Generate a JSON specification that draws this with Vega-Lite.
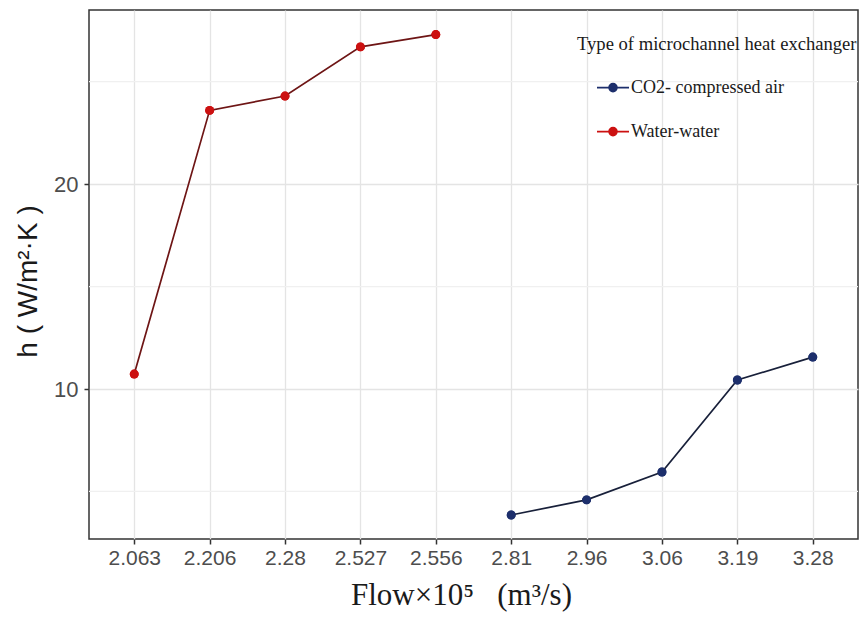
{
  "$schema": "https://vega.github.io/schema/vega-lite/v6.json",
  "width": 769,
  "height": 529,
  "autosize": "none",
  "padding": {"left": 89, "top": 10, "right": 1, "bottom": 80},
  "background": "white",
  "config": {
    "view": {"stroke": "#333333", "strokeWidth": 1.5},
    "font": "Liberation Sans"
  },
  "datasets": {
    "main": [
      {"flow": "2.063", "h": 10.73, "type": "Water-water"},
      {"flow": "2.206", "h": 23.6, "type": "Water-water"},
      {"flow": "2.28", "h": 24.3, "type": "Water-water"},
      {"flow": "2.527", "h": 26.7, "type": "Water-water"},
      {"flow": "2.556", "h": 27.3, "type": "Water-water"},
      {"flow": "2.81", "h": 3.85, "type": "CO2- compressed air"},
      {"flow": "2.96", "h": 4.59, "type": "CO2- compressed air"},
      {"flow": "3.06", "h": 5.95, "type": "CO2- compressed air"},
      {"flow": "3.19", "h": 10.44, "type": "CO2- compressed air"},
      {"flow": "3.28", "h": 11.56, "type": "CO2- compressed air"}
    ],
    "minor": [{"h": 5}, {"h": 15}, {"h": 25}]
  },
  "layer": [
    {
      "data": {"name": "minor"},
      "mark": {"type": "rule", "color": "#f0f0f0", "strokeWidth": 1.2},
      "encoding": {"y": {"field": "h", "type": "quantitative"}}
    },
    {
      "data": {"name": "main"},
      "mark": {"type": "point", "filled": true, "size": 80, "opacity": 1},
      "encoding": {
        "x": {
          "field": "flow",
          "type": "ordinal",
          "sort": ["2.063", "2.206", "2.28", "2.527", "2.556", "2.81", "2.96", "3.06", "3.19", "3.28"],
          "scale": {"type": "point", "padding": 0.6},
          "axis": {
            "title": "Flow×10⁵\u00a0\u00a0\u00a0(m³/s)",
            "titleFont": "Liberation Serif",
            "titleFontSize": 31,
            "titleFontWeight": "normal",
            "titleColor": "#1a1a1a",
            "titlePadding": 12,
            "titleX": 372,
            "labelAngle": 0,
            "labelFontSize": 21,
            "labelColor": "#4d4d4d",
            "labelPadding": 3,
            "tickColor": "#333333",
            "tickSize": 5,
            "tickWidth": 1.5,
            "domain": false,
            "grid": true,
            "gridColor": "#e4e4e4",
            "gridWidth": 1.3
          }
        },
        "fill": {
          "field": "type",
          "type": "nominal",
          "scale": {"domain": ["CO2- compressed air", "Water-water"], "range": ["#1d2f6c", "#cc1111"]},
          "legend": {
            "orient": "none",
            "legendX": 488,
            "legendY": 25,
            "padding": 0,
            "title": "Type of microchannel heat exchanger",
            "titleFont": "Liberation Serif",
            "titleFontSize": 18.6,
            "titleFontWeight": "normal",
            "titleColor": "#1a1a1a",
            "titleLimit": 500,
            "titlePadding": 25,
            "labelFont": "Liberation Serif",
            "labelFontSize": 18,
            "labelColor": "#1a1a1a",
            "labelLimit": 400,
            "labelOffset": 36,
            "rowPadding": 26,
            "symbolType": "M2.2,0L4.6,0M6.2,0L8.6,0M6.2,0A0.8,0.8,0,1,1,4.6,0A0.8,0.8,0,1,1,6.2,0Z",
            "symbolSize": 100,
            "symbolStrokeWidth": 1.6,
            "symbolOpacity": 1,
            "encode": {"symbols": {"update": {"stroke": {"scale": "fill", "field": "value"}}}}
          }
        }
      }
    },
    {
      "data": {"name": "main"},
      "transform": [{"filter": "datum.type === 'Water-water'"}],
      "mark": {"type": "line", "strokeWidth": 1.7, "color": "#6e1515"},
      "encoding": {
        "x": {"field": "flow", "type": "ordinal"}
      }
    },
    {
      "data": {"name": "main"},
      "transform": [{"filter": "datum.type === 'CO2- compressed air'"}],
      "mark": {"type": "line", "strokeWidth": 1.7, "color": "#18203a"},
      "encoding": {
        "x": {"field": "flow", "type": "ordinal"}
      }
    },
    {
      "data": {"name": "main"},
      "mark": {"type": "point", "filled": true, "size": 80, "opacity": 1},
      "encoding": {
        "x": {"field": "flow", "type": "ordinal"},
        "fill": {"field": "type", "type": "nominal"}
      }
    }
  ],
  "encoding": {
    "y": {
      "field": "h",
      "type": "quantitative",
      "scale": {"domain": [2.68, 28.5], "nice": false, "zero": false},
      "axis": {
        "title": "h ( W/m²·K )",
        "titleFont": "Liberation Sans",
        "titleFontSize": 28,
        "titleFontWeight": "normal",
        "titleColor": "#1a1a1a",
        "titleX": -47,
        "titleY": 271,
        "values": [10, 20],
        "labelFontSize": 22,
        "labelColor": "#4d4d4d",
        "labelPadding": 6,
        "tickColor": "#333333",
        "tickSize": 5,
        "tickWidth": 1.5,
        "domain": false,
        "grid": true,
        "gridColor": "#e4e4e4",
        "gridWidth": 1.3
      }
    }
  }
}
